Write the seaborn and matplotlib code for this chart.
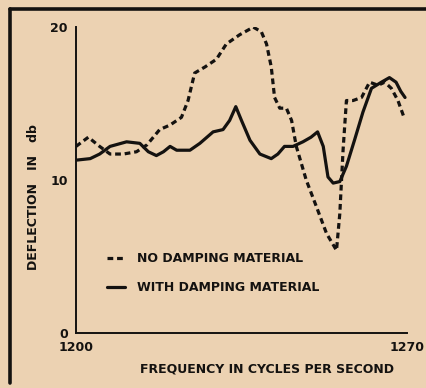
import numpy as np
import pandas as pd
import matplotlib
matplotlib.use("Agg")
import matplotlib.pyplot as plt
import seaborn as sns

# Response without damping material (frequency in c/s, deflection in db)
freq_none = [1200, 1202.6, 1205, 1207.2, 1210, 1212.8, 1215, 1217.7, 1219.9, 1222.3,
             1223.7, 1225.1, 1227.3, 1229.7, 1231.8, 1234.6, 1237.5, 1239.2, 1240.3,
             1241.3, 1242.0, 1243.1, 1244.5, 1245.6, 1246.6, 1248.7, 1250.8, 1253.0,
             1255.1, 1255.8, 1256.5, 1257.2, 1258.6, 1260.4, 1262.1, 1263.9, 1265.3,
             1266.7, 1268.1, 1269.5]
db_none = [12.2, 12.8, 12.2, 11.7, 11.7, 11.85, 12.3, 13.3, 13.6, 14.1,
           15.2, 17.0, 17.4, 17.9, 18.9, 19.5, 20.0, 19.7, 18.9,
           17.4, 15.4, 14.7, 14.7, 13.9, 12.2, 10.0, 8.3, 6.5,
           5.4, 7.8, 12.0, 15.2, 15.2, 15.4, 16.4, 16.2, 16.4,
           16.0, 15.2, 14.0]

# Response with damping material
freq_damped = [1200, 1203, 1205, 1207.2, 1210.7, 1213.5, 1215.3, 1217, 1218.5, 1219.9,
               1221.3, 1224.1, 1226.2, 1229, 1231.1, 1232.5, 1233.8, 1235, 1236.8,
               1238.9, 1241.3, 1242.7, 1244.1, 1245.9, 1248, 1249.7, 1251.1, 1252.3,
               1253.3, 1254.4, 1255.8, 1257.2, 1258.9, 1260.7, 1262.5, 1264.6, 1266.3,
               1267.7, 1268.7, 1269.6]
db_damped = [11.3, 11.4, 11.7, 12.2, 12.5, 12.4, 11.85, 11.6, 11.85, 12.2,
             11.95, 11.95, 12.4, 13.15, 13.3, 13.9, 14.8, 13.9, 12.6,
             11.7, 11.4, 11.7, 12.2, 12.2, 12.5, 12.8, 13.15, 12.2,
             10.2, 9.8, 9.9, 10.9, 12.6, 14.45, 16.0, 16.4, 16.7,
             16.4, 15.8, 15.4]

series_names = ["NO DAMPING MATERIAL", "WITH DAMPING MATERIAL"]
x_ticklabels = ["1200", "1270"]
y_ticklabels = ["0", "10", "20"]

df = pd.concat([
    pd.DataFrame({"freq": freq_none, "db": db_none, "series": series_names[0]}),
    pd.DataFrame({"freq": freq_damped, "db": db_damped, "series": series_names[1]}),
], ignore_index=True)

paper = "#ecd2b2"
ink = "#141210"

sns.set_theme(style="white")
plt.rcParams["font.family"] = ["DejaVu Sans"]
plt.rcParams["font.weight"] = "bold"

fig = plt.figure(figsize=(4.27, 3.88), dpi=100, facecolor=paper)
ax = fig.add_axes([0.178, 0.142, 0.775, 0.788])
ax.set_facecolor(paper)

sns.lineplot(data=df, x="freq", y="db", style="series", hue="series",
             palette=[ink, ink], dashes={series_names[0]: (1.8, 1.2),
                                         series_names[1]: ""},
             linewidth=2.3, sort=False, estimator=None, ax=ax, legend=True)

ax.set_xlim(1200, 1270)
ax.set_ylim(0, 20)

for s in ["top", "right"]:
    ax.spines[s].set_visible(False)
for s in ["left", "bottom"]:
    ax.spines[s].set_color(ink)
    ax.spines[s].set_linewidth(1.4)

ax.set_xticks(np.arange(1200, 1271, 10))
ax.set_xticklabels([x_ticklabels[0]] + [""] * 6 + [x_ticklabels[1]])
ax.set_yticks(np.arange(0, 21, 2))
ax.set_yticklabels([y_ticklabels[0]] + [""] * 4 + [y_ticklabels[1]] + [""] * 4 + [y_ticklabels[2]])
ax.tick_params(axis="both", direction="in", length=3, width=1.0, color=ink,
               labelcolor=ink, labelsize=9)
ax.tick_params(axis="y", pad=6)
ax.tick_params(axis="x", pad=6)

ax.set_xlabel("FREQUENCY IN CYCLES PER SECOND", fontsize=9, color=ink,
              fontweight="bold")
ax.xaxis.set_label_coords(0.577, -0.096)
ax.set_ylabel("DEFLECTION   IN   db", fontsize=9, color=ink, fontweight="bold")
ax.yaxis.set_label_coords(-0.109, 0.444)

handles, labels = ax.get_legend_handles_labels()
leg = ax.legend(handles=handles, labels=labels, loc="lower left",
                bbox_to_anchor=(0.06, 0.09), frameon=False,
                prop={"size": 9, "weight": "bold"},
                handlelength=1.4, handletextpad=1.0, labelspacing=1.3,
                labelcolor=ink)

# Outer printed border along the top and left
fig.add_artist(plt.Line2D([0.024, 1.0], [0.978, 0.978], color=ink, lw=2.6,
                          transform=fig.transFigure))
fig.add_artist(plt.Line2D([0.024, 0.024], [0.012, 0.978], color=ink, lw=2.6,
                          transform=fig.transFigure))

fig.savefig("out.png", dpi=100, facecolor=paper)
